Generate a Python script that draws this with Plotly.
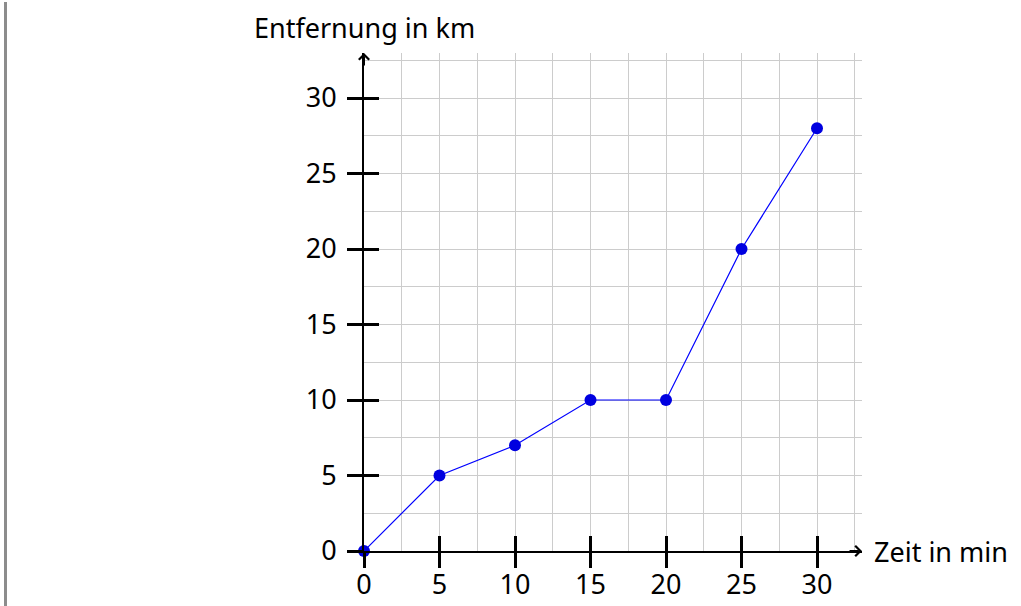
import plotly.graph_objects as go

zeit = [0, 5, 10, 15, 20, 25, 30]
entfernung = [0, 5, 7, 10, 10, 20, 28]
tick_vals = [0, 5, 10, 15, 20, 25, 30]
tick_text = ["0", "5", "10", "15", "20", "25", "30"]
x_title = "Zeit in min"
y_title = "Entfernung in km"

FONT = "Noto Sans"
FS = 27
W, H = 1021, 606
L, R, T, B = 364, 159, 53, 55
XMAX = 32.98
YMAX = 32.98
GRID = "#cccccc"

fig = go.Figure()
fig.add_trace(go.Scatter(
    x=zeit, y=entfernung, mode="lines+markers",
    line=dict(color="#0000ff", width=1.2),
    marker=dict(color="#0000e0", size=12),
    cliponaxis=False, showlegend=False, hoverinfo="skip",
))
fig.add_trace(go.Scatter(x=[0], y=[0], xaxis="x2", yaxis="y2", mode="markers",
                         marker=dict(opacity=0), showlegend=False, hoverinfo="skip"))

def main_axis(standoff):
    return dict(
        tickmode="array", tickvals=tick_vals, ticktext=tick_text,
        ticks="outside", ticklen=15, tickwidth=2.5, tickcolor="black",
        showline=True, linecolor="black", linewidth=2,
        zeroline=False, automargin=False,
        tickfont=dict(family=FONT, size=FS, color="black"),
        ticklabelstandoff=standoff,
        showgrid=True, gridcolor=GRID, gridwidth=1.3,
        minor=dict(tickmode="linear", tick0=0, dtick=2.5, showgrid=True,
                   gridcolor=GRID, gridwidth=1.3, ticks=""),
    )

def inner_axis(over):
    return dict(overlaying=over, tickmode="array", tickvals=tick_vals,
                ticks="inside", ticklen=15, tickwidth=2.5, tickcolor="black",
                showticklabels=False, showgrid=False, zeroline=False,
                showline=False, automargin=False)

fig.update_layout(
    width=W, height=H,
    margin=dict(l=L, r=R, t=T, b=B, autoexpand=False),
    paper_bgcolor="white", plot_bgcolor="white",
    xaxis=dict(range=[0, XMAX], **main_axis(-6)),
    yaxis=dict(range=[0, YMAX], **main_axis(5)),
    xaxis2=dict(range=[0, XMAX], side="bottom", **inner_axis("x")),
    yaxis2=dict(range=[0, YMAX], side="left", **inner_axis("y")),
)

# arrowheads at the axis ends
fig.add_annotation(x=1, y=0, ax=-14, ay=0, xref="paper", yref="y",
                   showarrow=True, arrowhead=4, arrowsize=1.0, arrowwidth=2,
                   arrowcolor="black", text="")
fig.add_annotation(x=0, y=1, ax=0, ay=14, xref="x", yref="paper",
                   showarrow=True, arrowhead=4, arrowsize=1.0, arrowwidth=2,
                   arrowcolor="black", text="")

# axis titles
fig.add_annotation(x=1, y=0, xref="paper", yref="y", xshift=10, text=x_title,
                   showarrow=False, xanchor="left", yanchor="middle",
                   font=dict(family=FONT, size=FS, color="black"))
fig.add_annotation(x=0, y=1, xref="x", yref="paper", yshift=26, text=y_title,
                   showarrow=False, xanchor="center", yanchor="middle",
                   font=dict(family=FONT, size=FS, color="black"))

# grey bar on the left edge
pw, ph = W - L - R, H - T - B
fig.add_shape(type="line", xref="paper", yref="paper",
              x0=(5.5 - L) / pw, x1=(5.5 - L) / pw,
              y0=-B / ph, y1=(H - T - 4) / ph,
              line=dict(color="#8c8c8c", width=3))

fig.write_html("out.html", config={"displayModeBar": False},
               post_script="document.body.style.margin='0';document.body.style.overflow='hidden';")
